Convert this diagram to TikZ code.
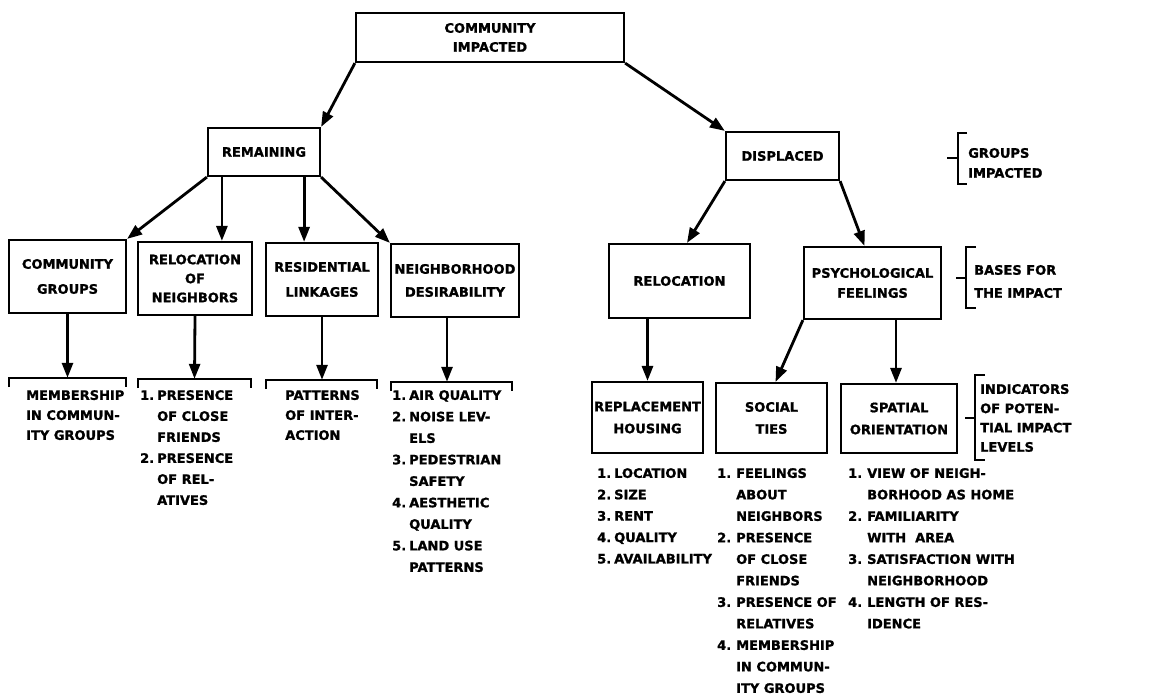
\documentclass[tikz,border=0pt]{standalone}
\usepackage{fontspec}
\setmainfont{DejaVu Sans}[BoldFeatures={FakeBold=1.2}]
\usetikzlibrary{arrows.meta}
% lettering: heavy capitals, optional baseline skip
\newcommand\lett[1][22]{\fontsize{13}{#1}\selectfont\bfseries}
% numbered list entries with hanging indent
\newcommand\itm[2][17pt]{\makebox[#1][l]{#2}}
\newcommand\ind[1][17pt]{\hspace*{#1}}
\begin{document}
\begin{tikzpicture}[x=1pt,y=-1pt,
  every node/.style={font=\lett},
  box/.style={draw, line width=2.2pt, inner sep=0pt, align=center},
  arr/.style={line width=2.8pt, -{Triangle[length=15pt,width=11pt]}},
  brk/.style={line width=2.2pt},
  bnode/.style={inner sep=0pt, minimum height=9pt},
  lst/.style={anchor=north west, inner sep=0pt, align=left},
  side/.style={anchor=west, inner sep=0pt, align=left}]
\useasboundingbox (0,0) rectangle (1164,695);

% tree boxes
\node[box, minimum width=268, minimum height=49, font={\lett[19]}] (ci) at (490,37.5) {COMMUNITY\\IMPACTED};
\node[box, minimum width=112, minimum height=48] (rem) at (264,152) {REMAINING};
\node[box, minimum width=113, minimum height=48] (dis) at (782.5,156) {DISPLACED};
\node[box, minimum width=117, minimum height=73, font={\lett[25]}] (cg) at (67.5,276.5) {COMMUNITY\\GROUPS};
\node[box, minimum width=114, minimum height=73, font={\lett[19]}] (rn) at (195,278.5) {RELOCATION\\OF\\NEIGHBORS};
\node[box, minimum width=112, minimum height=73, font={\lett[25]}] (rl) at (322,279.5) {RESIDENTIAL\\LINKAGES};
\node[box, minimum width=128, minimum height=73, font={\lett[23]}] (nd) at (455,280.5) {NEIGHBORHOOD\\DESIRABILITY};
\node[box, minimum width=141, minimum height=74] (rel) at (679.5,281) {RELOCATION};
\node[box, minimum width=137, minimum height=72, font={\lett[20]}] (pf) at (872.5,283) {PSYCHOLOGICAL\\FEELINGS};
\node[box, minimum width=111, minimum height=71] (rh) at (647.5,417.5) {REPLACEMENT\\HOUSING};
\node[box, minimum width=111, minimum height=70] (st) at (771.5,418) {SOCIAL\\TIES};
\node[box, minimum width=116, minimum height=69] (so) at (899,418.5) {SPATIAL\\ORIENTATION};

% open-top brackets over the indicator lists
\node[bnode, minimum width=117] (cgb) at (67.5,382.5) {};
\node[bnode, minimum width=113] (rnb) at (194.5,383.5) {};
\node[bnode, minimum width=111] (rlb) at (321.5,384.5) {};
\node[bnode, minimum width=121] (ndb) at (451.5,386.5) {};
\foreach \b in {cgb,rnb,rlb,ndb}
  \draw[brk] (\b.south west) -- (\b.north west) -- (\b.north east) -- (\b.south east);

% connectors
\draw[arr] (ci.south west) -- (rem.north east);
\draw[arr] (ci.south east) -- (dis.north west);
\draw[arr] (rem.south west) -- (cg.north east);
\draw[arr] ([xshift=15pt]rem.south west) -- ([xshift=15pt]rem.south west |- rn.north);
\draw[arr] ([xshift=-17pt]rem.south east) -- ([xshift=-17pt]rem.south east |- rl.north);
\draw[arr] (rem.south east) -- (nd.north west);
\draw[arr] (dis.south west) -- ([xshift=7.5pt]rel.north);
\draw[arr] (dis.south east) -- ([xshift=-8pt]pf.north);
\draw[arr] (rel.south -| rh.north) -- (rh.north);
\draw[arr] (pf.south west) -- ([xshift=4pt]st.north);
\draw[arr] ([xshift=-3pt]so.north |- pf.south) -- ([xshift=-3pt]so.north);
\draw[arr] (cg.south) -- (cgb.north);
\draw[arr] (rn.south) -- (rnb.north);
\draw[arr] (rl.south) -- (rl.south |- rlb.north);
\draw[arr] ([xshift=-8pt]nd.south) -- ([xshift=-8pt]nd.south |- ndb.north);

% indicator lists
\node[lst, font={\lett[20]}] (cgl) at (26,390) {MEMBERSHIP\\IN COMMUN-\\ITY GROUPS};
\node[lst, font={\lett[21]}] (rnl) at (140,390) {\itm{1.}PRESENCE\\\ind OF CLOSE\\\ind FRIENDS\\\itm{2.}PRESENCE\\\ind OF REL-\\\ind ATIVES};
\node[lst, font={\lett[20]}] (rll) at (285,390) {PATTERNS\\OF INTER-\\ACTION};
\node[lst, font={\lett[21.5]}] (ndl) at (392,390) {\itm{1.}AIR QUALITY\\\itm{2.}NOISE LEV-\\\ind ELS\\\itm{3.}PEDESTRIAN\\\ind SAFETY\\\itm{4.}AESTHETIC\\\ind QUALITY\\\itm{5.}LAND USE\\\ind PATTERNS};
\node[lst, font={\lett[21.4]}] (rhl) at (597,468) {\itm{1.}LOCATION\\\itm{2.}SIZE\\\itm{3.}RENT\\\itm{4.}QUALITY\\\itm{5.}AVAILABILITY};
\node[lst, font={\lett[21.5]}] (stl) at (717,468) {\itm[19pt]{1.}FEELINGS\\\ind[19pt]ABOUT\\\ind[19pt]NEIGHBORS\\\itm[19pt]{2.}PRESENCE\\\ind[19pt]OF CLOSE\\\ind[19pt]FRIENDS\\\itm[19pt]{3.}PRESENCE OF\\\ind[19pt]RELATIVES\\\itm[19pt]{4.}MEMBERSHIP\\\ind[19pt]IN COMMUN-\\\ind[19pt]ITY GROUPS};
\node[lst, font={\lett[21.5]}] (sol) at (848,468) {\itm[19pt]{1.}VIEW OF NEIGH-\\\ind[19pt]BORHOOD AS HOME\\\itm[19pt]{2.}FAMILIARITY\\\ind[19pt]WITH\ \ AREA\\\itm[19pt]{3.}SATISFACTION WITH\\\ind[19pt]NEIGHBORHOOD\\\itm[19pt]{4.}LENGTH OF RES-\\\ind[19pt]IDENCE};

% level labels with side brackets
\node[side, font={\lett[20]}] (gi) at (968,163) {GROUPS\\IMPACTED};
\draw[brk] (967,133) -- (958,133) -- (958,184) -- (967,184);
\draw[brk] (947,158) -- (958,158);
\node[side, font={\lett[23]}] (bi) at (974,281.5) {BASES FOR\\THE IMPACT};
\draw[brk] (976,247) -- (966,247) -- (966,308) -- (976,308);
\draw[brk] (956,278) -- (966,278);
\node[side, font={\lett[19.3]}] (ip) at (980,418) {INDICATORS\\OF POTEN-\\TIAL IMPACT\\LEVELS};
\draw[brk] (985,375) -- (975,375) -- (975,460) -- (985,460);
\draw[brk] (965,418) -- (975,418);
\end{tikzpicture}
\end{document}
